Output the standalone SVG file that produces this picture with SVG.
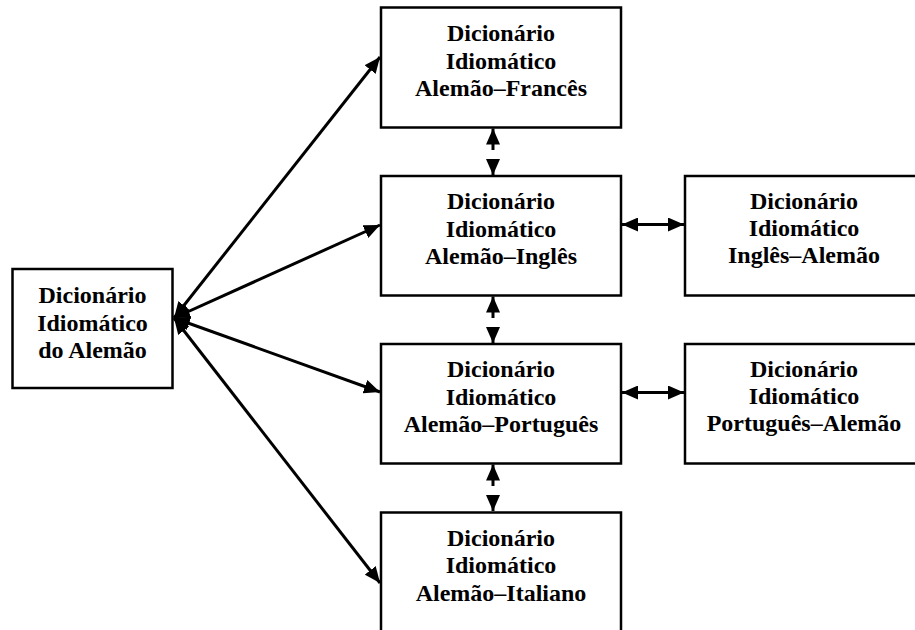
<svg xmlns="http://www.w3.org/2000/svg" width="915" height="630" viewBox="0 0 915 630">
  <style>
    .box { fill: #fff; stroke: #000; stroke-width: 2.5; }
    .lbl { font-family: "Liberation Serif", "Times New Roman", serif; font-weight: bold; font-size: 24px; fill: #000; text-anchor: middle; }
    .con { fill: none; stroke: #000; stroke-width: 3; }
  </style>
  <defs>
    <marker id="head" markerUnits="userSpaceOnUse" markerWidth="17" markerHeight="14" refX="16" refY="7" orient="auto-start-reverse">
      <path d="M0,0 L16,7 L0,14 z" fill="#000"/>
    </marker>
  </defs>
  <rect width="915" height="630" fill="#fff"/>

  <g id="node-alemao">
    <rect class="box" x="12.5" y="269" width="160" height="119"/>
    <text class="lbl" x="92.5" y="303">Dicionário</text>
    <text class="lbl" x="92.5" y="330.5">Idiomático</text>
    <text class="lbl" x="92.5" y="358">do Alemão</text>
  </g>

  <g id="node-alemao-frances">
    <rect class="box" x="381" y="7.5" width="240" height="120"/>
    <text class="lbl" x="501" y="41">Dicionário</text>
    <text class="lbl" x="501" y="68.5">Idiomático</text>
    <text class="lbl" x="501" y="96">Alemão–Francês</text>
  </g>

  <g id="node-alemao-ingles">
    <rect class="box" x="381" y="176" width="240" height="119.5"/>
    <text class="lbl" x="501" y="209">Dicionário</text>
    <text class="lbl" x="501" y="236.5">Idiomático</text>
    <text class="lbl" x="501" y="264">Alemão–Inglês</text>
  </g>

  <g id="node-alemao-portugues">
    <rect class="box" x="381" y="344" width="240" height="119.5"/>
    <text class="lbl" x="501" y="377">Dicionário</text>
    <text class="lbl" x="501" y="404.5">Idiomático</text>
    <text class="lbl" x="501" y="432">Alemão–Português</text>
  </g>

  <g id="node-alemao-italiano">
    <rect class="box" x="381" y="512.5" width="240" height="130"/>
    <text class="lbl" x="501" y="545.5">Dicionário</text>
    <text class="lbl" x="501" y="573">Idiomático</text>
    <text class="lbl" x="501" y="600.5">Alemão–Italiano</text>
  </g>

  <g id="node-ingles-alemao">
    <rect class="box" x="685" y="176" width="240" height="119.5"/>
    <text class="lbl" x="804" y="208.5">Dicionário</text>
    <text class="lbl" x="804" y="236">Idiomático</text>
    <text class="lbl" x="804" y="263">Inglês–Alemão</text>
  </g>

  <g id="node-portugues-alemao">
    <rect class="box" x="685" y="344" width="240" height="119.5"/>
    <text class="lbl" x="804" y="376.5">Dicionário</text>
    <text class="lbl" x="804" y="404">Idiomático</text>
    <text class="lbl" x="804" y="431">Português–Alemão</text>
  </g>

  <g id="connectors">
    <!-- fan from the general dictionary -->
    <path class="con" d="M174,318 L380,57" marker-start="url(#head)" marker-end="url(#head)"/>
    <path class="con" d="M174,318 L380,225" marker-start="url(#head)" marker-end="url(#head)"/>
    <path class="con" d="M174,318 L380,392" marker-start="url(#head)" marker-end="url(#head)"/>
    <path class="con" d="M174,318 L380,583" marker-start="url(#head)" marker-end="url(#head)"/>

    <!-- vertical links between bilingual dictionaries -->
    <path class="con" d="M493,150 L493,128.5" marker-end="url(#head)"/>
    <path class="con" d="M493,160 L493,175" marker-end="url(#head)"/>
    <path class="con" d="M493,318 L493,296.5" marker-end="url(#head)"/>
    <path class="con" d="M493,328 L493,343" marker-end="url(#head)"/>
    <path class="con" d="M493,486 L493,464.5" marker-end="url(#head)"/>
    <path class="con" d="M493,496 L493,511" marker-end="url(#head)"/>

    <!-- horizontal links to the reverse dictionaries -->
    <path class="con" d="M622,224.5 L684,224.5" marker-start="url(#head)" marker-end="url(#head)"/>
    <path class="con" d="M622,392.5 L684,392.5" marker-start="url(#head)" marker-end="url(#head)"/>
  </g>
</svg>
